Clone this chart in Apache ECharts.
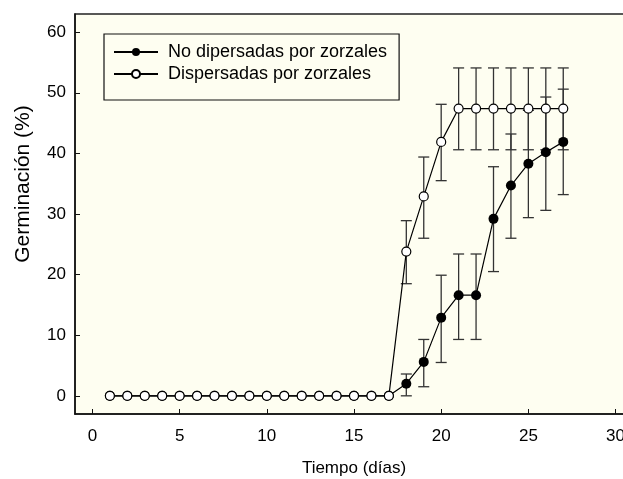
<!DOCTYPE html>
<html>
<head>
<meta charset="utf-8">
<script src="https://cdn.jsdelivr.net/npm/echarts@6/dist/echarts.min.js"></script>
<style>html,body{margin:0;padding:0;background:#fff;}#c{width:623px;height:479px;}</style>
</head>
<body>
<div id="c"></div>
<script>
// ---- data ----
const days = [1,2,3,4,5,6,7,8,9,10,11,12,13,14,15,16,17,18,19,20,21,22,23,24,25,26,27];
const noDisp = [0,0,0,0,0,0,0,0,0,0,0,0,0,0,0,0,0,2.0,5.6,12.9,16.6,16.6,29.2,34.7,38.3,40.2,41.9];
const disp   = [0,0,0,0,0,0,0,0,0,0,0,0,0,0,0,0,0,23.8,32.9,41.9,47.4,47.4,47.4,47.4,47.4,47.4,47.4];
const errDays = [18,19,20,21,22,23,24,25,26,27];
const noDispLow  = [0.0,1.5,5.5,9.3,9.3,20.5,26.0,29.4,30.6,33.2];
const noDispHigh = [3.6,9.3,19.9,23.4,23.4,37.8,43.2,47.1,49.3,50.6];
const dispLow  = [18.5,26.0,35.5,40.6,40.6,40.6,40.6,40.6,40.6,40.6];
const dispHigh = [28.9,39.4,48.1,54.1,54.1,54.1,54.1,54.1,54.1,54.1];
const xTicks = [0,5,10,15,20,25,30];
const yTicks = [0,10,20,30,40,50,60];
const seriesNames = ['No dipersadas por zorzales','Dispersadas por zorzales'];

const chart = echarts.init(document.getElementById('c'), null, {renderer:'canvas'});
const FONT = 'Liberation Sans, Arial, Helvetica, sans-serif';

function errRender(params, api) {
  const x = api.value(0);
  const lo = api.coord([x, api.value(1)]);
  const hi = api.coord([x, api.value(2)]);
  const w = 5.5;
  const st = {stroke:'#333', lineWidth:1.3};
  return {type:'group', children:[
    {type:'line', shape:{x1:lo[0],y1:lo[1],x2:hi[0],y2:hi[1]}, style:st},
    {type:'line', shape:{x1:lo[0]-w,y1:lo[1],x2:lo[0]+w,y2:lo[1]}, style:st},
    {type:'line', shape:{x1:hi[0]-w,y1:hi[1],x2:hi[0]+w,y2:hi[1]}, style:st}
  ]};
}

const option = {
  animation:false,
  backgroundColor:'#ffffff',
  textStyle:{fontFamily:FONT},
  grid:{left:75, top:14, width:558, height:400, outerBoundsMode:'none', containLabel:false,
    show:true, backgroundColor:'#fefef1', borderColor:'#222', borderWidth:1.5},
  legend:{
    data:seriesNames, orient:'vertical', left:104, top:34,
    backgroundColor:'#fefef1', borderColor:'#111', borderWidth:1.2, borderRadius:0,
    padding:[9,12,17,9], itemWidth:44, itemHeight:10, itemGap:4,
    textStyle:{fontFamily:FONT, fontSize:18, color:'#000', padding:[0,0,0,5]}
  },
  xAxis:{
    type:'value', min:-1, max:31,
    name:'Tiempo (días)', nameLocation:'middle', nameGap:46,
    nameTextStyle:{fontFamily:FONT, fontSize:17, color:'#000'},
    axisLine:{show:true, onZero:false, lineStyle:{color:'#111', width:1.5}},
    axisTick:{show:true, inside:true, length:5, customValues:xTicks, lineStyle:{color:'#111'}},
    axisLabel:{customValues:xTicks, margin:14, fontSize:17, color:'#000', fontFamily:FONT},
    splitLine:{show:false}
  },
  yAxis:{
    type:'value', min:-3, max:63,
    name:'Germinación (%)', nameLocation:'middle', nameGap:41,
    nameTextStyle:{fontFamily:FONT, fontSize:21, color:'#000', padding:[0,0,0,60]},
    axisLine:{show:true, onZero:false, lineStyle:{color:'#111', width:1.5}},
    axisTick:{show:true, inside:true, length:5, customValues:yTicks, lineStyle:{color:'#111'}},
    axisLabel:{customValues:yTicks, margin:9, fontSize:17, color:'#000', fontFamily:FONT},
    splitLine:{show:false}
  },
  series:[
    {name:'errNo', type:'custom', renderItem:errRender, z:2, silent:true,
      data:errDays.map((d,i)=>[d,noDispLow[i],noDispHigh[i]]), encode:{x:0,y:[1,2]}},
    {name:'errDisp', type:'custom', renderItem:errRender, z:2, silent:true,
      data:errDays.map((d,i)=>[d,dispLow[i],dispHigh[i]]), encode:{x:0,y:[1,2]}},
    {name:seriesNames[0], type:'line', z:3, data:days.map((d,i)=>[d,noDisp[i]]),
      symbol:'circle', symbolSize:10, color:'#000',
      lineStyle:{color:'#000', width:1.2}, itemStyle:{color:'#000'}},
    {name:seriesNames[1], type:'line', z:4, data:days.map((d,i)=>[d,disp[i]]),
      symbol:'circle', symbolSize:9, color:'#000',
      lineStyle:{color:'#000', width:1.2}, itemStyle:{color:'#fff', borderColor:'#000', borderWidth:1.2}}
  ]
};
chart.setOption(option);
</script>
</body>
</html>
